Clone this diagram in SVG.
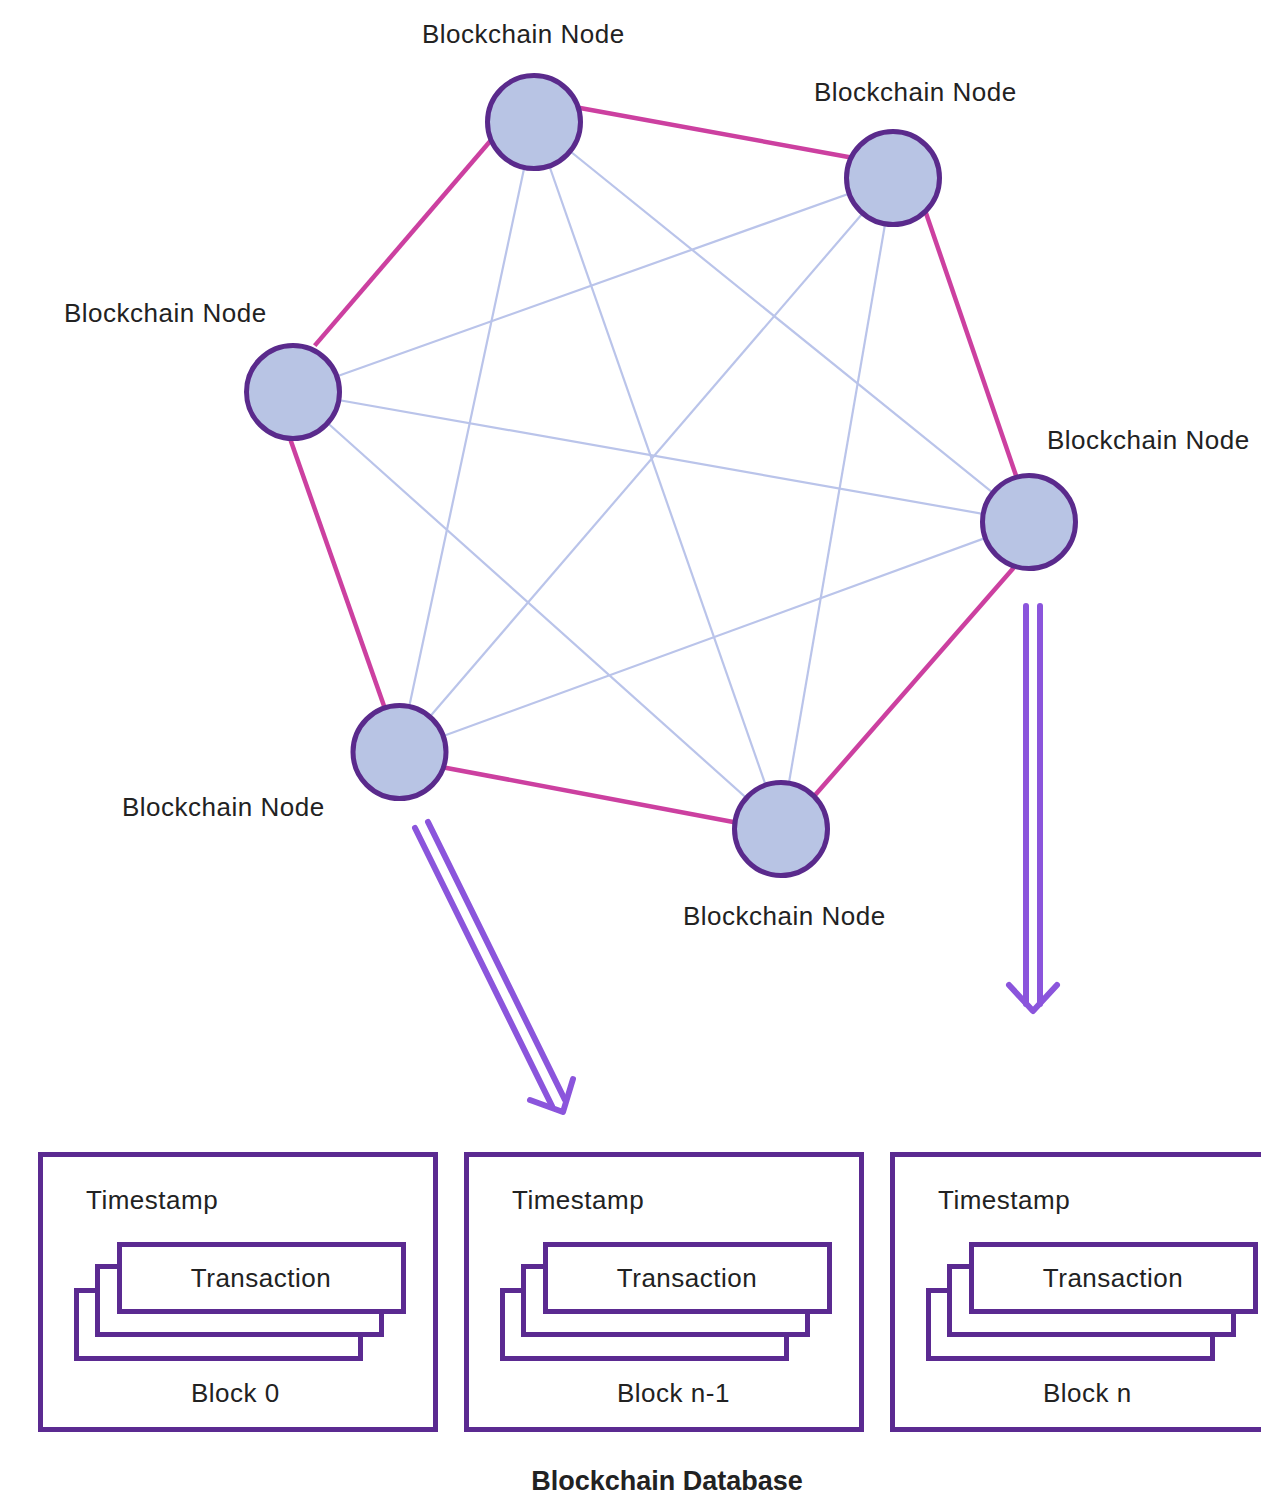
<svg xmlns="http://www.w3.org/2000/svg" width="1261" height="1500" viewBox="0 0 1261 1500">
<style>
.lbl{font-family:"Liberation Sans",Arial,sans-serif;font-size:26px;letter-spacing:0.5px;fill:#222}
.ttl{font-family:"Liberation Sans",Arial,sans-serif;font-size:27px;font-weight:bold;fill:#222}
.node{fill:#b8c4e4;stroke:#5a2a8c;stroke-width:5}
.ring{stroke:#cc40a0;stroke-width:4.5;fill:none}
.mesh{stroke:#bac4ea;stroke-width:2.2;fill:none}
.box{fill:#fff;stroke:#5b2a91;stroke-width:5}
.arr{stroke:#8b55dc;stroke-width:6;fill:none;stroke-linecap:round;stroke-linejoin:round}
</style>
<rect width="1261" height="1500" fill="#fff"/>
<g id="connectors">
<line class="mesh" x1="534" y1="122" x2="1029" y2="522"/>
<line class="mesh" x1="534" y1="122" x2="399.5" y2="752"/>
<line class="mesh" x1="534" y1="122" x2="781" y2="829"/>
<line class="mesh" x1="893" y1="178" x2="293" y2="392"/>
<line class="mesh" x1="893" y1="178" x2="399.5" y2="752"/>
<line class="mesh" x1="893" y1="178" x2="781" y2="829"/>
<line class="mesh" x1="293" y1="392" x2="1029" y2="522"/>
<line class="mesh" x1="293" y1="392" x2="781" y2="829"/>
<line class="mesh" x1="1029" y1="522" x2="399.5" y2="752"/>
<line class="ring" x1="578.7" y1="107.8" x2="849.7" y2="157.2"/>
<line class="ring" x1="925.7" y1="212.2" x2="1016" y2="475.5"/>
<line class="ring" x1="1013.7" y1="567.7" x2="814.7" y2="795.6"/>
<line class="ring" x1="734.6" y1="822.3" x2="445.3" y2="767.7"/>
<line class="ring" x1="384.3" y1="706.8" x2="290.7" y2="440.5"/>
<line class="ring" x1="314.7" y1="345.6" x2="490.3" y2="141"/>
<g id="arrow-left">
<line class="arr" x1="415" y1="828" x2="552" y2="1106"/>
<line class="arr" x1="428" y1="822" x2="565" y2="1100"/>
<polyline class="arr" points="530,1100 563,1112 573,1079"/>
</g>
<g id="arrow-right">
<line class="arr" x1="1026" y1="606" x2="1026" y2="1004"/>
<line class="arr" x1="1040" y1="606" x2="1040" y2="1004"/>
<polyline class="arr" points="1009,985 1033,1011 1057,985"/>
</g>
</g>
<g id="node1"><circle class="node" cx="534" cy="122" r="46.5"/><text class="lbl" x="422" y="43">Blockchain Node</text></g>
<g id="node2"><circle class="node" cx="893" cy="178" r="46.5"/><text class="lbl" x="814" y="101">Blockchain Node</text></g>
<g id="node3"><circle class="node" cx="293" cy="392" r="46.5"/><text class="lbl" x="64" y="322">Blockchain Node</text></g>
<g id="node4"><circle class="node" cx="1029" cy="522" r="46.5"/><text class="lbl" x="1047" y="449">Blockchain Node</text></g>
<g id="node5"><circle class="node" cx="399.5" cy="752" r="46.5"/><text class="lbl" x="122" y="816">Blockchain Node</text></g>
<g id="node6"><circle class="node" cx="781" cy="829" r="46.5"/><text class="lbl" x="683" y="925">Blockchain Node</text></g>
<g id="block0">
<rect class="box" x="40.5" y="1154.5" width="395" height="275"/>
<text class="lbl" x="86" y="1209">Timestamp</text>
<rect class="box" x="76.5" y="1290.5" width="284" height="68"/>
<rect class="box" x="97.5" y="1266.5" width="284" height="68"/>
<rect class="box" x="119.5" y="1244.5" width="284" height="67"/>
<text class="lbl" x="261" y="1287" text-anchor="middle">Transaction</text>
<text class="lbl" x="191" y="1402">Block 0</text>
</g>
<g id="block1" transform="translate(426,0)">
<rect class="box" x="40.5" y="1154.5" width="395" height="275"/>
<text class="lbl" x="86" y="1209">Timestamp</text>
<rect class="box" x="76.5" y="1290.5" width="284" height="68"/>
<rect class="box" x="97.5" y="1266.5" width="284" height="68"/>
<rect class="box" x="119.5" y="1244.5" width="284" height="67"/>
<text class="lbl" x="261" y="1287" text-anchor="middle">Transaction</text>
<text class="lbl" x="191" y="1402">Block n-1</text>
</g>
<g id="block2" transform="translate(852,0)">
<rect class="box" x="40.5" y="1154.5" width="395" height="275"/>
<text class="lbl" x="86" y="1209">Timestamp</text>
<rect class="box" x="76.5" y="1290.5" width="284" height="68"/>
<rect class="box" x="97.5" y="1266.5" width="284" height="68"/>
<rect class="box" x="119.5" y="1244.5" width="284" height="67"/>
<text class="lbl" x="261" y="1287" text-anchor="middle">Transaction</text>
<text class="lbl" x="191" y="1402">Block n</text>
</g>
<text class="ttl" x="667" y="1490" text-anchor="middle">Blockchain Database</text>
</svg>
